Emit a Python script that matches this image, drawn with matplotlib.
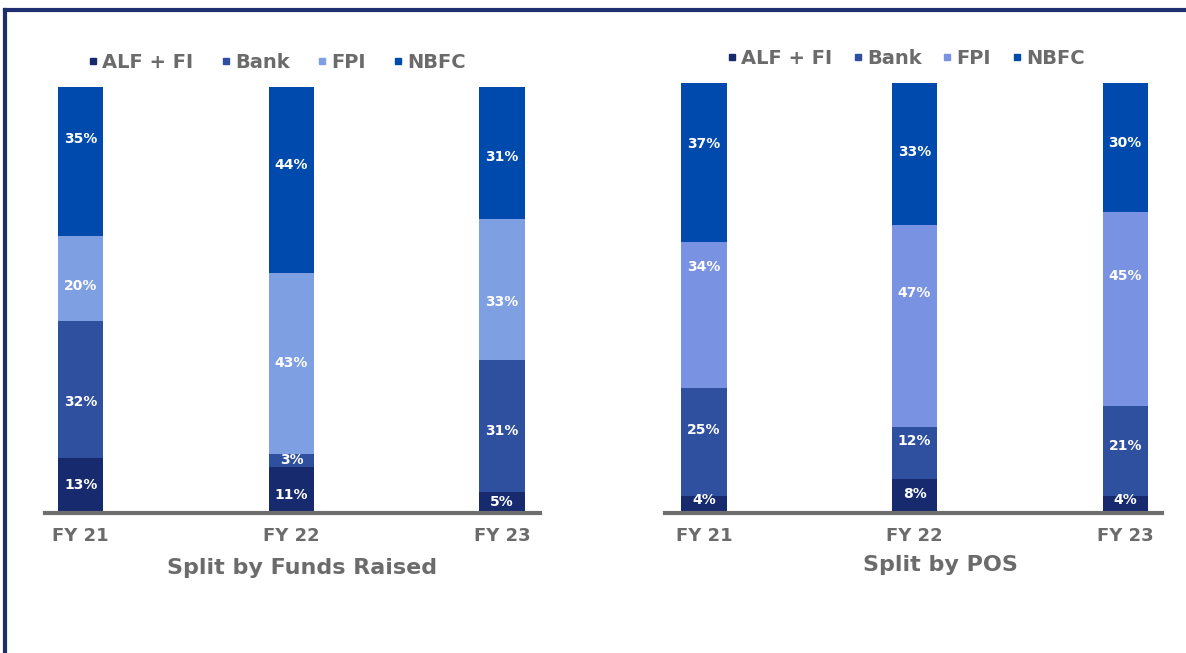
import matplotlib
matplotlib.use("Agg")
import matplotlib.pyplot as plt
import numpy as np
from matplotlib.lines import Line2D

years = ["FY 21", "FY 22", "FY 23"]
segments = ["ALF + FI", "Bank", "FPI", "NBFC"]

# Split by Funds Raised (%)
funds_alf = [13, 11, 5]
funds_bank = [32, 3, 31]
funds_fpi = [20, 43, 33]
funds_nbfc = [35, 44, 31]

# Split by POS (%)
pos_alf = [4, 8, 4]
pos_bank = [25, 12, 21]
pos_fpi = [34, 47, 45]
pos_nbfc = [37, 33, 30]

GREY = "#6b6b6b"
NAVY = "#1f2e6e"
colors_left = ["#172a6e", "#2f4f9f", "#7f9fe3", "#004aad"]
colors_right = ["#172a6e", "#2f4f9f", "#7a92e2", "#004aad"]

# vertical nudges for the value labels (in % of bar height), per segment row
nudge_left = [[0, -1.2, 0], [-3, 0, -1.2], [-1.6, 0, -3], [5.2, 3.5, -1]]
nudge_right = [[1, 0.5, 1], [2.8, 2.8, 1], [11.2, 7.7, 7.7], [4.4, 0.5, 1]]

W, H = 1186, 653
fig = plt.figure(figsize=(W / 100, H / 100), dpi=100)
plt.rcParams["font.family"] = ["DejaVu Sans"]


def px_axes(x0, x1, y_top, y_bot):
    return fig.add_axes([x0 / W, (H - y_bot) / H, (x1 - x0) / W, (y_bot - y_top) / H])


def draw_panel(ax, series, colors, nudges, title, xlim, title_xy, leg_xy, colspace):
    vals = np.array(series, dtype=float)
    totals = vals.sum(axis=0)
    x = np.arange(len(years))
    bottom = np.zeros(len(years))
    for name, raw, col, nud in zip(segments, vals, colors, nudges):
        h = raw / totals * 100
        ax.bar(x, h, bottom=bottom, width=0.215, color=col, label=name, zorder=2)
        for xi, b, hi, r, n in zip(x, bottom, h, raw, nud):
            ax.text(xi, b + hi / 2 + n, f"{int(r)}%", ha="center", va="center",
                    color="white", fontsize=10, fontweight="bold", zorder=3)
        bottom += h
    ax.set_xlim(*xlim)
    ax.set_ylim(0, 100)
    for s in ["top", "right", "left"]:
        ax.spines[s].set_visible(False)
    ax.spines["bottom"].set_color("#6e6e6e")
    ax.spines["bottom"].set_linewidth(3)
    ax.set_yticks([])
    ax.set_xticks(x)
    ax.set_xticklabels(years, fontsize=13, fontweight="bold", color=GREY)
    ax.tick_params(axis="x", length=0, pad=10)
    ax.set_xlabel(title, fontsize=16, fontweight="bold", color=GREY)
    ax.xaxis.set_label_coords(*title_xy)
    handles = [Line2D([], [], marker="s", linestyle="", markersize=4,
                      color=c) for c in colors]
    ax.legend(handles, segments, loc="lower center", bbox_to_anchor=leg_xy,
              ncol=4, frameon=False, handlelength=0.35, handletextpad=0.3,
              columnspacing=colspace, borderaxespad=0,
              prop={"size": 14, "weight": "bold"}, labelcolor=GREY)


ax1 = px_axes(45, 540, 87, 513)
draw_panel(ax1, [funds_alf, funds_bank, funds_fpi, funds_nbfc], colors_left,
           nudge_left, "Split by Funds Raised", (-0.17, 2.18),
           (0.52, -0.105), (0.47, 1.017), 1.5)

ax2 = px_axes(665, 1162, 83, 513)
draw_panel(ax2, [pos_alf, pos_bank, pos_fpi, pos_nbfc], colors_right,
           nudge_right, "Split by POS", (-0.185, 2.175),
           (0.555, -0.097), (0.486, 1.017), 1.15)

# outer frame (top and left edges)
fig.add_artist(Line2D([5 / W, 1.0], [(H - 10) / H, (H - 10) / H], color=NAVY,
                      linewidth=3, transform=fig.transFigure))
fig.add_artist(Line2D([5 / W, 5 / W], [0, (H - 10) / H], color=NAVY,
                      linewidth=3, transform=fig.transFigure))

fig.savefig("out.png", dpi=100)
